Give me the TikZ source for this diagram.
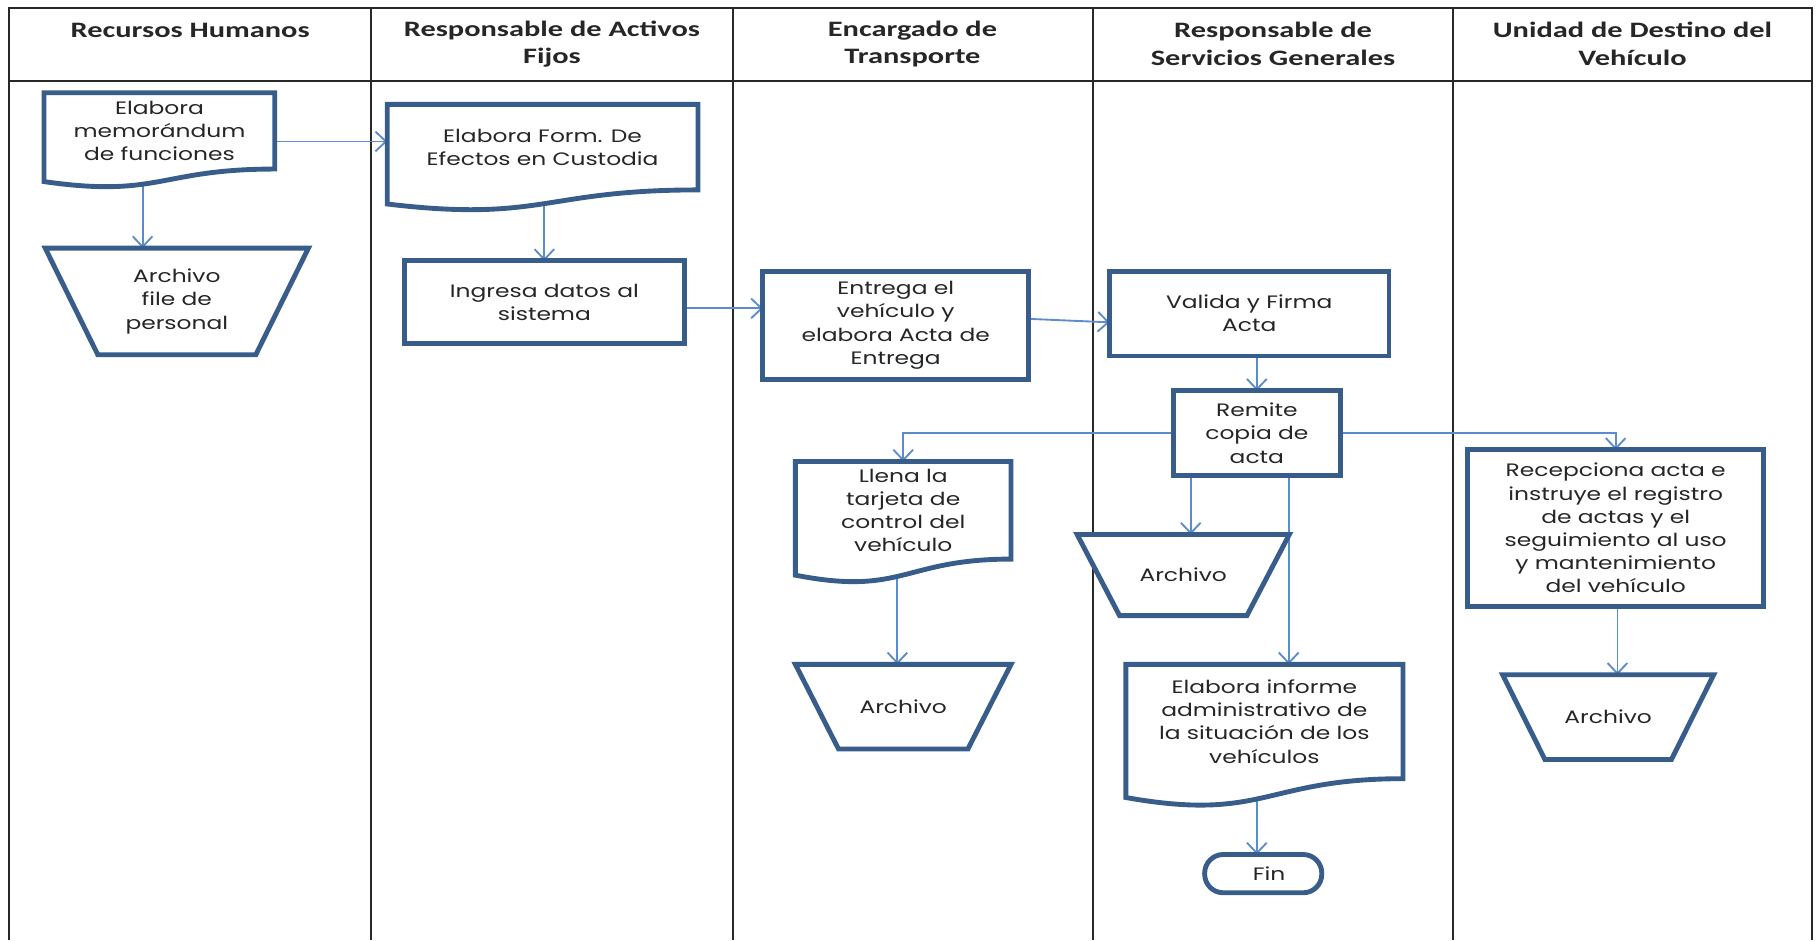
\documentclass[tikz,border=0pt]{standalone}
\usepackage{fontspec}
\newfontfamily\hdfont{Carlito}[FakeStretch=1.38]
\newfontfamily\bdfont{Poppins}[FakeStretch=1.3]
\usetikzlibrary{arrows.meta,calc}
\pgfdeclarelayer{bg}
\pgfsetlayers{bg,main}
\definecolor{boxblue}{RGB}{56,93,138}
\definecolor{lineblue}{RGB}{91,140,205}
\definecolor{lanegray}{RGB}{40,40,40}
\newcommand\docpath[1]{\draw[shapeline] (#1.north west) -- (#1.north east) -- (#1.south east) .. controls (#1.south) and ($(#1.north)!1.381!(#1.south)$) .. ($(#1.north west)!1.1646!(#1.south west)$) -- cycle;}
\newcommand\trappath[1]{\draw[shapeline] (#1.north west) -- (#1.north east) -- ($(#1.south west)!0.8!(#1.south east)$) -- ($(#1.south west)!0.2!(#1.south east)$) -- cycle;}
\begin{document}
\begin{tikzpicture}[x=1pt,y=-1pt,
  lane/.style={draw=lanegray,line width=1.6pt},
  hd/.style={font=\hdfont\bfseries\fontsize{19}{24}\selectfont,align=center,inner sep=0pt,text=black!85},
  bd/.style={font=\bdfont\fontsize{15.5}{20}\selectfont,align=center,inner sep=0pt,outer sep=0pt,text=black!85,anchor=north west},
  rectbox/.style={bd,draw=boxblue,line width=4.2pt,fill=white},
  shapeline/.style={draw=boxblue,line width=4.2pt,fill=white,line join=miter},
  arr/.style={draw=lineblue,line width=1.6pt,-{Straight Barb[length=9pt,width=17pt]}}]
\useasboundingbox (0,0) rectangle (1568,811);
% lanes
\begin{pgfonlayer}{bg}
\draw[lane] (8,811) -- (8,7) -- (1563,7) -- (1563,811);
\draw[lane,line width=1.9pt] (8,70) -- (1563,70);
\foreach \xx in {320,632,943,1253} \draw[lane] (\xx,7) -- (\xx,811);
\end{pgfonlayer}
% headers
\node[hd] (h1) at (164,26) {Recursos Humanos};
\node[hd] (h2) at (476,38) {Responsable de Activos\\Fijos};
\node[hd] (h3) at (787,38) {Encargado de\\Transporte};
\node[hd] (h4) at (1098,38) {Responsable de\\Servicios Generales};
\node[hd] (h5) at (1408,38) {Unidad de Destino del\\Vehículo};
% document nodes (text region = upper 80.2%)
\node[bd,minimum width=199pt,minimum height=65.8pt] (n1) at (38,80) {Elabora\\memorándum\\de funciones};
\node[bd,minimum width=268pt,minimum height=73.8pt] (n2) at (334,90) {Elabora Form. De\\Efectos en Custodia};
\node[bd,minimum width=186pt,minimum height=84.2pt] (n8) at (686,398) {Llena la\\tarjeta de\\control del\\vehículo};
\node[bd,minimum width=239pt,minimum height=98.6pt] (n11) at (971,573) {Elabora informe\\administrativo de\\la situación de los\\vehículos};
% trapezoid nodes
\node[bd,minimum width=227pt,minimum height=92pt] (n4) at (39,214) {Archivo\\file de\\personal};
\node[bd,minimum width=183pt,minimum height=70pt] (n10) at (929,461) {Archivo};
\node[bd,minimum width=186pt,minimum height=73pt] (n13) at (686,573) {Archivo};
\node[bd,minimum width=182pt,minimum height=73pt] (n14) at (1296,582) {Archivo};
% rectangles
\node[rectbox,minimum width=241pt,minimum height=71pt] (n3) at (349,225) {Ingresa datos al\\sistema};
\node[rectbox,minimum width=229pt,minimum height=93pt] (n5) at (658,234) {Entrega el\\vehículo y\\elabora Acta de\\Entrega};
\node[rectbox,minimum width=241pt,minimum height=73pt] (n6) at (957,234) {Valida y Firma\\Acta};
\node[rectbox,minimum width=144pt,minimum height=73pt] (n7) at (1012,337) {Remite\\copia de\\acta};
\node[rectbox,minimum width=255pt,minimum height=135pt] (n9) at (1266,388) {Recepciona acta e\\instruye el registro\\de actas y el\\seguimiento al uso\\y mantenimiento\\del vehículo};
\node[rectbox,rounded corners=16pt,minimum width=101pt,minimum height=33pt] (n12) at (1039,737) {\hspace*{10pt}Fin};
% connectors and shapes
\begin{pgfonlayer}{bg}
\draw[arr] (n1.east |- 0,122) -- (n2.west |- 0,122);
\draw[arr] (n1.center -| 123,0) -- (n4.north -| 123,0);
\draw[arr] (n2.center -| n3.north) -- (n3.north);
\draw[arr] (n3.east |- 0,266) -- (n5.west |- 0,266);
\draw[arr] (n5.east |- 0,275) -- (n6.west |- 0,278);
\draw[arr] (n6.south -| n7.north) -- (n7.north);
\draw[arr] (n7.west) -| (n8.north);
\draw[arr] (n7.east) -| (n9.north);
\draw[arr] (n7.south -| 1027,0) -- (n10.north -| 1027,0);
\draw[arr] (n7.south -| 1111.5,0) -- (n11.north -| 1111.5,0);
\draw[arr] (n8.center -| 774,0) -- (n13.north -| 774,0);
\draw[arr] (n9.south -| 1395,0) -- (n14.north -| 1395,0);
\draw[arr] (n11.center -| 1084,0) -- (n12.north -| 1084,0);
\docpath{n1}
\docpath{n2}
\docpath{n8}
\docpath{n11}
\trappath{n4}
\trappath{n10}
\trappath{n13}
\trappath{n14}
\end{pgfonlayer}
\end{tikzpicture}
\end{document}
